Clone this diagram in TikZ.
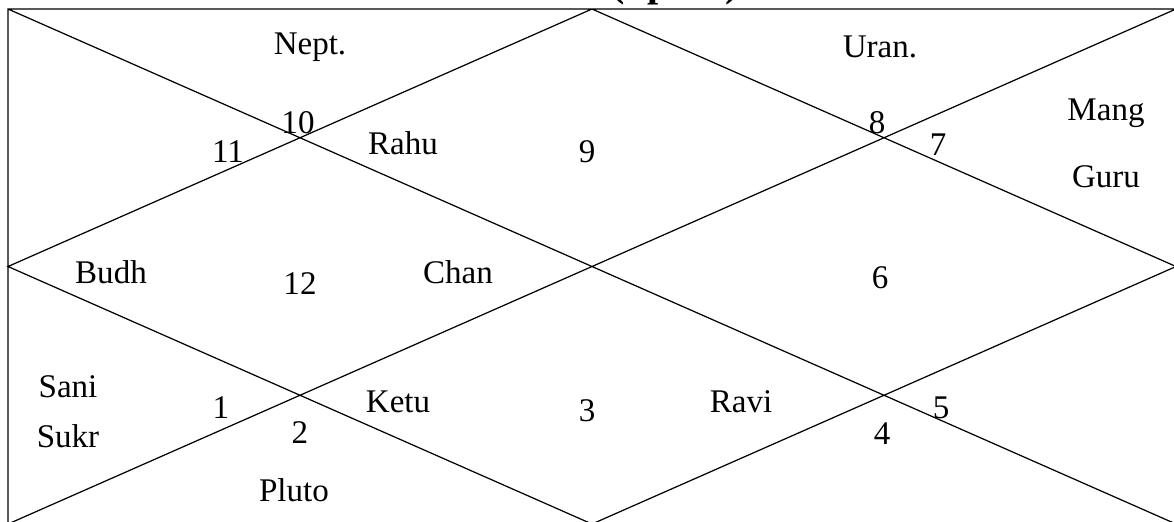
\documentclass[tikz,border=0pt]{standalone}
\usepackage{fontspec}
\setmainfont{Liberation Serif}
\usepackage{tikz}

\begin{document}
\begin{tikzpicture}[x=0.2mm, y=-0.2mm, line width=0.7pt,
		lbl/.style={inner sep=0pt, font=\fontsize{18.8}{22}\selectfont}]
		% page
		\useasboundingbox (0, 0) rectangle (1174, 521);
		\clip (0, 0) rectangle (1174, 521);
		% title
		\node[anchor=base, inner sep=0pt, font=\fontsize{22.8}{26}\selectfont\bfseries] (title) at (675, -4) {(Sputa)};
		% outline
		\draw 
			(8, 9) rectangle (1176, 524)
			(8, 9) -- (1176, 524)
			(8, 524) -- (1176, 9)
			(592, 9) -- (1176, 266.5) -- (592, 524) -- (8, 266.5) -- cycle;
		% house numbers
		\node[lbl] (h1) at (221, 408) {1};
		\node[lbl] (h2) at (300, 433) {2};
		\node[lbl] (h3) at (587, 411) {3};
		\node[lbl] (h4) at (882, 434) {4};
		\node[lbl] (h5) at (941, 408) {5};
		\node[lbl] (h6) at (880, 278) {6};
		\node[lbl] (h7) at (938, 145) {7};
		\node[lbl] (h8) at (877, 123) {8};
		\node[lbl] (h9) at (587, 152) {9};
		\node[lbl] (h10) at (298, 123) {10};
		\node[lbl] (h11) at (228, 152) {11};
		\node[lbl] (h12) at (300, 284) {12};
		% planets
		\node[lbl] (nept) at (310, 47) {Nept.};
		\node[lbl] (uran) at (880, 47) {Uran.};
		\node[lbl] (rahu) at (403, 143) {Rahu};
		\node[lbl] (mang) at (1106, 113) {Mang};
		\node[lbl] (guru) at (1106, 177) {Guru};
		\node[lbl] (budh) at (111, 272) {Budh};
		\node[lbl] (chan) at (458, 272) {Chan};
		\node[lbl] (sani) at (68, 387) {Sani};
		\node[lbl] (sukr) at (68, 436) {Sukr};
		\node[lbl] (ketu) at (398, 402) {Ketu};
		\node[lbl] (ravi) at (741, 402) {Ravi};
		\node[lbl] (pluto) at (294, 490) {Pluto};
	\end{tikzpicture}
\end{document}
